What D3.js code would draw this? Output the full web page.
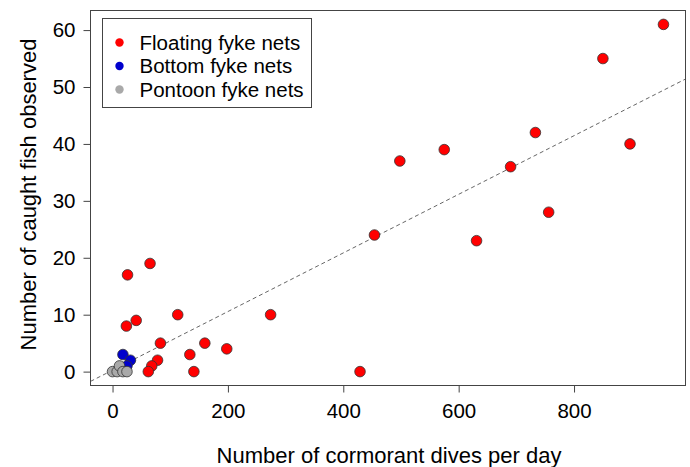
<!DOCTYPE html>
<html>
<head>
<meta charset="utf-8">
<script src="https://cdn.jsdelivr.net/npm/d3@7"></script>
<style>
  body { margin: 0; background: white; }
  text { font-family: "Liberation Sans", Arial, sans-serif; fill: #000; }
</style>
</head>
<body>
<script>
// Data (dives per day, fish caught)
const floatingDives = [955, 850, 733, 897, 575, 498, 690, 756, 454, 631, 274, 429, 65, 26, 113, 41, 24, 83, 160, 198, 134, 78, 68, 62, 141];
const floatingFish  = [61, 55, 42, 40, 39, 37, 36, 28, 24, 23, 10, 0, 19, 17, 10, 9, 8, 5, 5, 4, 3, 2, 1, 0, 0];
const bottomDives = [18, 31, 25];
const bottomFish  = [3, 2, 1];
const pontoonDives = [0, 8, 12, 18, 25];
const pontoonFish  = [0, 0, 1, 0, 0];

const xTicks = [0, 200, 400, 600, 800];
const yTicks = [0, 10, 20, 30, 40, 50, 60];

// fitted line (intercept, slope)
const fitLine = [0.25, 0.0515];

const seriesNames = ["Floating fyke nets", "Bottom fyke nets", "Pontoon fyke nets"];
const seriesColors = ["#ff0000", "#0000cd", "#a9a9a9"];

const outerWidth = 690, outerHeight = 467;
const margin = {top: 10.5, right: 4.5, bottom: 81.5, left: 90.5};
const width = outerWidth - margin.left - margin.right;
const height = outerHeight - margin.top - margin.bottom;

const svg = d3.select("body").append("svg")
    .attr("width", outerWidth)
    .attr("height", outerHeight);

const g = svg.append("g")
    .attr("transform", "translate(" + margin.left + "," + margin.top + ")");

// R style 4% padding on each side
const xExt = [0, d3.max(floatingDives)];
const yExt = [0, d3.max(floatingFish)];
const xPad = (xExt[1] - xExt[0]) * 0.04, yPad = (yExt[1] - yExt[0]) * 0.04;

const xScale = d3.scaleLinear().domain([xExt[0] - xPad, xExt[1] + xPad]).range([0, width]);
const yScale = d3.scaleLinear().domain([yExt[0] - yPad, yExt[1] + yPad]).range([height, 0]);

// axes
const xAxis = d3.axisBottom(xScale).tickValues(xTicks).tickSize(7).tickPadding(11);
const yAxis = d3.axisLeft(yScale).tickValues(yTicks).tickSize(7).tickPadding(8);

const xg = g.append("g").attr("transform", "translate(0," + height + ")").call(xAxis);
const yg = g.append("g").call(yAxis);

[xg, yg].forEach(a => {
    a.select(".domain").remove();
    a.selectAll(".tick line").attr("stroke", "#444");
    a.selectAll(".tick text").style("font-size", "20.5px").attr("fill", "#000");
});

// clipped dashed fit line
svg.append("clipPath").attr("id", "plotclip")
    .append("rect").attr("width", width).attr("height", height);

const xd = xScale.domain();
g.append("line")
    .attr("clip-path", "url(#plotclip)")
    .attr("x1", xScale(xd[0])).attr("y1", yScale(fitLine[0] + fitLine[1] * xd[0]))
    .attr("x2", xScale(xd[1])).attr("y2", yScale(fitLine[0] + fitLine[1] * xd[1]))
    .attr("stroke", "#666")
    .attr("stroke-width", 1)
    .attr("stroke-dasharray", "4,3");

// points, drawn red then blue then grey
const groups = [
    floatingDives.map((d, i) => ({x: d, y: floatingFish[i], s: 0})),
    bottomDives.map((d, i) => ({x: d, y: bottomFish[i], s: 1})),
    pontoonDives.map((d, i) => ({x: d, y: pontoonFish[i], s: 2}))
];

groups.forEach((pts, k) => {
    g.selectAll(".dot" + k)
        .data(pts)
        .join("circle")
        .attr("class", "dot" + k)
        .attr("cx", d => xScale(d.x))
        .attr("cy", d => yScale(d.y))
        .attr("r", 5.3)
        .attr("fill", d => seriesColors[d.s])
        .attr("stroke", "#333")
        .attr("stroke-width", 0.8);
});

// box round the plot
g.append("rect")
    .attr("width", width)
    .attr("height", height)
    .attr("fill", "none")
    .attr("stroke", "#444")
    .attr("stroke-width", 1);

// legend
const legend = svg.append("g").attr("transform", "translate(102.5,18.5)");
legend.append("rect")
    .attr("width", 209)
    .attr("height", 89)
    .attr("fill", "white")
    .attr("stroke", "#444");

seriesNames.forEach((name, i) => {
    legend.append("circle")
        .attr("cx", 17)
        .attr("cy", 24 + i * 23.5)
        .attr("r", 4.2)
        .attr("fill", seriesColors[i]);
    legend.append("text")
        .attr("x", 37)
        .attr("y", 24 + i * 23.5)
        .attr("dy", "0.35em")
        .style("font-size", "20.5px")
        .text(name);
});

// axis titles
svg.append("text")
    .attr("x", 389)
    .attr("y", 463)
    .attr("text-anchor", "middle")
    .style("font-size", "22px")
    .text("Number of cormorant dives per day");

svg.append("text")
    .attr("transform", "translate(36," + (margin.top + 184) + ") rotate(-90)")
    .attr("text-anchor", "middle")
    .style("font-size", "22px")
    .text("Number of caught fish observed");
</script>
</body>
</html>
